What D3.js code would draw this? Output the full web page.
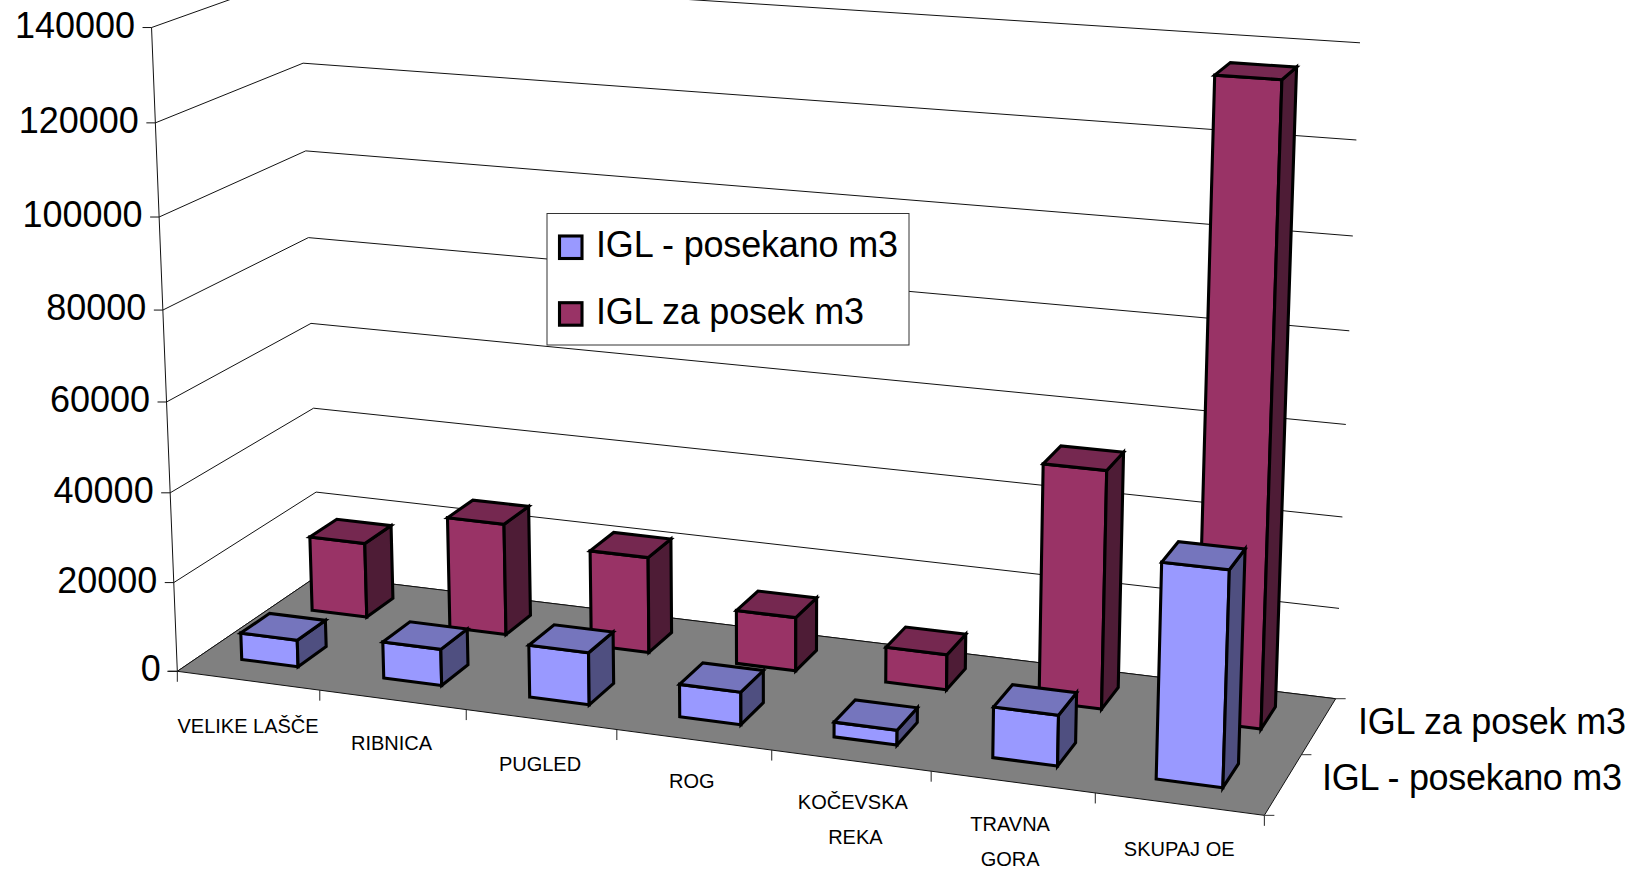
<!DOCTYPE html>
<html><head><meta charset="utf-8">
<script src="https://cdnjs.cloudflare.com/ajax/libs/d3/7.8.5/d3.min.js"></script>
<style>html,body{margin:0;padding:0;background:#fff}svg{display:block}text{font-family:"Liberation Sans",Arial,sans-serif;fill:#000}</style>
</head><body><svg id="c" width="1634" height="869"></svg>
<script>
// ---- data ----
const categories = ["VELIKE LAŠČE","RIBNICA","PUGLED","ROG","KOČEVSKA REKA","TRAVNA GORA","SKUPAJ OE"];
const seriesNames = ["IGL - posekano m3","IGL za posek m3"];
const posekano = [6000,8100,11500,7100,3200,10800,45200];
const zaPosek  = [17200,25400,21600,12000,7800,51900,135800];
const valueTicks = [0,20000,40000,60000,80000,100000,120000,140000];
// ---- layout: camera calibration of the 3D box, (u,w,h) box coordinates -> screen ----
const leftFront = [[177.5,669.3],[173.6,582],[170.4,491.7],[166.8,401],[163.2,310.3],[159.6,216.3],[156.4,122.3],[150.7,28.3]];
const leftBack  = [[320,577],[316.8,491.7],[313,408],[310,324],[306.4,237],[306.4,150.7],[303.6,63],[300,-25]];
const rightBack = [[1336,697],[1339,606.5],[1342,516],[1346,425.7],[1349.7,331.7],[1353,237.3],[1356.5,140],[1360,42.3]];
const frontFloor = [[319.6,691],[465.7,711],[618,730],[770.6,752],[929.4,772],[1095.5,796],[1265,812]];
const labelBaselines = [[733],[750],[771],[788],[809.3,844.3],[831,865.7],[855.7]];
const labelShift = [[0],[-1],[-1],[-2],[2,4.5],[-2.5,-2.5],[0]];
const labelFont=20, bigFont=36;

function fitCamera(){
  const pts=[];
  [leftFront,leftBack,rightBack].forEach((arr,j)=>arr.forEach((p,k)=>pts.push([j==2?1:0,j==0?0:1,k/7,p[0]/1000,p[1]/1000])));
  frontFloor.forEach((p,k)=>pts.push([(k+1)/7,0,0,p[0]/1000,p[1]/1000]));
  const rows=[],rhs=[];
  pts.forEach(([u,w,h,x,y])=>{
    rows.push([u,w,h,1,0,0,0,0,-x*u,-x*w,-x*h]);rhs.push(x);
    rows.push([0,0,0,0,u,w,h,1,-y*u,-y*w,-y*h]);rhs.push(y);
  });
  const n=11,M=d3.range(n).map(i=>d3.range(n+1).map(j=>{
    let s=0;rows.forEach((r,k)=>{s+=r[i]*(j<n?r[j]:rhs[k]);});return s;}));
  for(let i=0;i<n;i++){
    let b=i;for(let r=i+1;r<n;r++)if(Math.abs(M[r][i])>Math.abs(M[b][i]))b=r;
    [M[i],M[b]]=[M[b],M[i]];
    for(let r=0;r<n;r++){if(r==i)continue;const f=M[r][i]/M[i][i];for(let c=i;c<=n;c++)M[r][c]-=f*M[i][c];}
  }
  return d3.range(n).map(i=>M[i][n]/M[i][i]);
}
const P=fitCamera();
function project(u,w,h){
  const d=P[8]*u+P[9]*w+P[10]*h+1;
  return [1000*(P[0]*u+P[1]*w+P[2]*h+P[3])/d,1000*(P[4]*u+P[5]*w+P[6]*h+P[7])/d];
}
// ---- scales ----
const uScale=d3.scaleBand().domain(categories).range([0,0.998]).paddingInner(0.6).paddingOuter(0.3);
const wScale=d3.scaleBand().domain(seriesNames).range([0,1]).paddingInner(0.6).paddingOuter(0.3);
const hScale=d3.scaleLinear().domain([0,140000]).range([0,1]);
const uEdge=d3.scaleLinear().domain([0,categories.length]).range([0,1]);
const line=d3.line();
const poly=pts=>line(pts)+"Z";
const svg=d3.select("#c");
const styles={
  [seriesNames[0]]:{front:"#9999FF",top:"#7575BD",side:"#4F4F80"},
  [seriesNames[1]]:{front:"#993366",top:"#752850",side:"#4E1C36"}
};
const thin=(g,a,b,color)=>g.append("line").attr("x1",a[0]).attr("y1",a[1]).attr("x2",b[0]).attr("y2",b[1]).attr("stroke",color||"#111").attr("stroke-width",1);

// walls: gridlines
const grid=svg.append("g");
valueTicks.forEach(t=>{
  const h=hScale(t);
  const a=project(0,0,h),b=project(0,1,h),c=project(1,1,h);
  grid.append("path").attr("d",line([a,b,c])).attr("fill","none").attr("stroke","#111").attr("stroke-width",1);
  thin(grid,[a[0]-9,a[1]],a);
  svg.append("text").attr("x",a[0]-16.5).attr("y",a[1]+10).attr("text-anchor","end").attr("font-size",bigFont).text(t);
});
thin(grid,project(0,0,0),project(0,0,1));
// floor
svg.append("path").attr("d",poly([project(0,0,0),project(1,0,0),project(1,1,0),project(0,1,0)])).attr("fill","#808080").attr("stroke","#111").attr("stroke-width",1);
// floor ticks
d3.range(categories.length+1).forEach(i=>{
  const p=project(uEdge(i),0,0);
  thin(svg,p,[p[0],p[1]+10.5],"#222");
});
const pA=project(0,0,0);thin(svg,[pA[0]-10,pA[1]],pA);
[0,0.5,1].forEach(w=>{const p=project(1,w,0);thin(svg,p,[p[0]+10,p[1]],"#333");});
// category labels
categories.forEach((c,i)=>{
  const x=project(uEdge(i+0.5),0,0)[0];
  const parts=c==="VELIKE LAŠČE"||c==="SKUPAJ OE"?[c]:c.split(" ");
  parts.forEach((t,k)=>svg.append("text").attr("x",x+labelShift[i][k]).attr("y",labelBaselines[i][k]).attr("text-anchor","middle").attr("font-size",labelFont).text(t));
});
// bars, back row first
function bar(g,cat,ser,val,st){
  const u0=uScale(cat),u1=u0+uScale.bandwidth(),w0=wScale(ser),w1=w0+wScale.bandwidth(),h=hScale(val);
  const faces=[
    [[[u0,w0,0],[u1,w0,0],[u1,w0,h],[u0,w0,h]],st.front],
    [[[u1,w0,0],[u1,w1,0],[u1,w1,h],[u1,w0,h]],st.side],
    [[[u0,w0,h],[u1,w0,h],[u1,w1,h],[u0,w1,h]],st.top]
  ];
  g.selectAll(null).data(faces).enter().append("path")
    .attr("d",d=>poly(d[0].map(q=>project(q[0],q[1],q[2]))))
    .attr("fill",d=>d[1]).attr("stroke","#000").attr("stroke-width",3.1).attr("stroke-linejoin","miter");
}
const bars=svg.append("g").attr("transform","translate(0,-2)");
categories.forEach((c,i)=>bar(bars,c,seriesNames[1],zaPosek[i],styles[seriesNames[1]]));
categories.forEach((c,i)=>bar(bars,c,seriesNames[0],posekano[i],styles[seriesNames[0]]));
// series axis labels
svg.append("text").attr("x",1626).attr("y",734).attr("text-anchor","end").attr("font-size",bigFont).attr("textLength",268).attr("lengthAdjust","spacing").text(seriesNames[1]);
svg.append("text").attr("x",1622).attr("y",790).attr("text-anchor","end").attr("font-size",bigFont).attr("textLength",300).attr("lengthAdjust","spacing").text(seriesNames[0]);
// legend
const lg=svg.append("g");
lg.append("rect").attr("x",547).attr("y",213.5).attr("width",362).attr("height",131.5).attr("fill","#fff").attr("stroke","#333").attr("stroke-width",1);
[[236,257],[302.7,323.5]].forEach((r,i)=>{
  const s=seriesNames[i];
  lg.append("rect").attr("x",559.5).attr("y",r[0]).attr("width",22.5).attr("height",22.5).attr("fill",styles[s].front).attr("stroke","#000").attr("stroke-width",3.1);
  lg.append("text").attr("x",596).attr("y",r[1]).attr("font-size",bigFont).attr("textLength",i?268:302).attr("lengthAdjust","spacing").text(s);
});
</script></body></html>
